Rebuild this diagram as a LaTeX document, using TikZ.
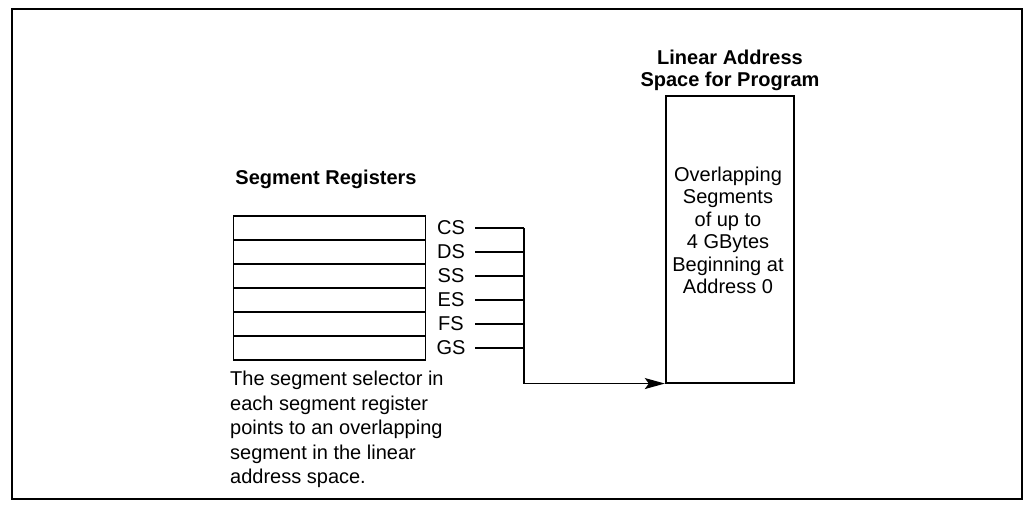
\documentclass[tikz,border=0pt]{standalone}
\usepackage{fontspec}
\setmainfont{Liberation Sans}
\usetikzlibrary{arrows.meta, positioning}

\tikzset{
  regrow/.style={draw, line width=1.8pt, minimum width=192pt, minimum height=24pt, inner sep=0pt},
  seglabel/.style={inner sep=0pt},
  busline/.style={line width=1.2pt},
  title/.style={font=\fontsize{20}{22}\selectfont\bfseries, align=center, inner sep=0pt}
}

\begin{document}
\begin{tikzpicture}[x=1pt, y=-1pt, every node/.style={font=\fontsize{20}{22.5}\selectfont}]
\useasboundingbox (0,0) rectangle (1036,510);
\draw[line width=2.2pt] (12,9) rectangle (1022,499);

% segment registers
\node (regtitle) [title] at (326,179) {Segment Registers};
\foreach \seg [count=\i] in {CS,DS,SS,ES,FS,GS} {
  \node (reg\i) [regrow] at (329.5, 204+24*\i) {};
  \node (\seg) [seglabel] at (451, 204+24*\i) {\seg};
  \coordinate (in\seg) at (475, 204+24*\i);
  \coordinate (bus\seg) at (524, 204+24*\i);
  \draw[busline] (in\seg) -- (bus\seg);
}
\node (caption) [anchor=north west, align=left, inner sep=0pt,
  font=\fontsize{20}{24.5}\selectfont] at (230,371)
  {The segment selector in\\each segment register\\points to an overlapping\\segment in the linear\\address space.};

% linear address space
\node (lin) [draw, line width=1.8pt, minimum width=128.6pt, minimum height=286.7pt, inner sep=0pt] at (730,239.3) {};
\node (lintitle) [title, above=4pt of lin] {Linear Address\\Space for Program};
\node (lintext) [align=center, inner sep=0pt] at (728,230.5)
  {Overlapping\\Segments\\of up to\\4 GBytes\\Beginning at\\Address 0};

\coordinate (busend) at (busCS |- lin.south west);
\draw[busline] (busCS) -- (busend);
\draw[busline, -{Stealth[length=20pt, width=11pt, inset=4pt]}] (busend) -- (lin.south west);
\end{tikzpicture}
\end{document}
